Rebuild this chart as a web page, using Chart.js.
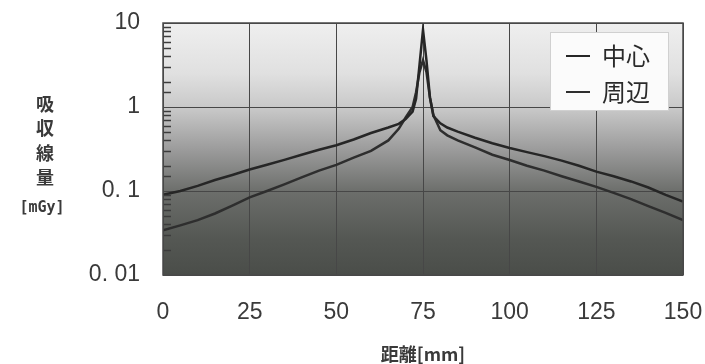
<!DOCTYPE html>
<html>
<head>
<meta charset="utf-8">
<script src="https://cdn.jsdelivr.net/npm/chart.js@4.4.1/dist/chart.umd.min.js"></script>
<style>
    html, body { margin: 0; padding: 0; background: #fff; }
    #wrap { width: 705px; height: 364px; position: relative; }
</style>
</head>
<body>
<div id="wrap"><canvas id="doseChart"></canvas></div>
<script>
/* =========================================================
   DATA
========================================================= */
const distances = [0, 5, 10, 15, 20, 25, 30, 35, 40, 45, 50, 55, 60, 65, 68, 70, 72, 73, 74, 75,
    76, 77, 78, 80, 82, 85, 90, 95, 100, 105, 110, 115, 120, 125, 130, 135, 140, 145, 150];

const centerDose = [0.09, 0.10, 0.115, 0.135, 0.155, 0.18, 0.205, 0.235, 0.27, 0.31, 0.35, 0.41, 0.49, 0.57, 0.63, 0.72, 0.88, 1.25, 3.2, 8.3,
    3.6, 1.3, 0.78, 0.64, 0.57, 0.51, 0.43, 0.37, 0.325, 0.29, 0.26, 0.23, 0.2, 0.17, 0.15, 0.13, 0.11, 0.09, 0.075];

const edgeDose = [0.034, 0.039, 0.045, 0.054, 0.067, 0.084, 0.1, 0.12, 0.145, 0.175, 0.205, 0.25, 0.3, 0.4, 0.55, 0.75, 1.0, 1.5, 2.6, 3.6,
    2.6, 1.3, 0.8, 0.53, 0.46, 0.4, 0.33, 0.27, 0.234, 0.2, 0.175, 0.15, 0.13, 0.112, 0.095, 0.08, 0.066, 0.055, 0.045];

const seriesNames = ["中心", "周辺"];
const yTickLabels = { 10: "10", 1: "1", 0.1: "0. 1", 0.01: "0. 01" };
const yTitleChars = ["吸", "収", "線", "量"];
const yTitleUnit = "[mGy]";
const xTitle = "距離[mm]";

const LINE_COLOR = "#262626";
const TEXT_COLOR = "#3a3a3a";
const NUM_FONT = "'Liberation Sans', Arial, sans-serif";
const JP_FONT = "'Noto Sans CJK JP', sans-serif";

function isDecade(v) {
    const l = Math.log10(v);
    return Math.abs(l - Math.round(l)) < 1e-6;
}

/* =========================================================
   PLUGINS
========================================================= */
// gradient background of the plot area
const plotBackground = {
    id: "plotBackground",
    beforeDraw(chart) {
        const { ctx, chartArea: a } = chart;
        const g = ctx.createLinearGradient(0, a.top, 0, a.bottom);
        g.addColorStop(0, "#efefef");
        g.addColorStop(0.2, "#e0e0e0");
        g.addColorStop(0.34, "#c8c8c8");
        g.addColorStop(0.5, "#9c9c9c");
        g.addColorStop(0.67, "#6c6e6b");
        g.addColorStop(0.85, "#555854");
        g.addColorStop(1, "#4a4d49");
        ctx.save();
        ctx.fillStyle = g;
        ctx.fillRect(a.left, a.top, a.right - a.left, a.bottom - a.top);
        ctx.restore();
    }
};

// border, minor ticks, legend box and axis titles
const decorations = {
    id: "decorations",
    afterDraw(chart) {
        const { ctx, chartArea: a } = chart;
        const yScale = chart.scales.y;
        ctx.save();

        // minor ticks on the inside of the left edge
        ctx.strokeStyle = "#3c3c3c";
        ctx.lineWidth = 1.5;
        yScale.ticks.forEach(t => {
            if (isDecade(t.value)) return;
            const py = Math.round(yScale.getPixelForValue(t.value)) + 0.5;
            ctx.beginPath();
            ctx.moveTo(a.left, py);
            ctx.lineTo(a.left + 8, py);
            ctx.stroke();
        });

        // plot border
        ctx.strokeStyle = "#4a4a4a";
        ctx.lineWidth = 1.5;
        ctx.strokeRect(a.left, a.top, a.right - a.left, a.bottom - a.top);

        // legend box
        const bx = a.right - 133, by = a.top + 9, bw = 118, bh = 78;
        ctx.fillStyle = "#fbfbfb";
        ctx.fillRect(bx, by, bw, bh);
        ctx.strokeStyle = "#d0d0d0";
        ctx.lineWidth = 1;
        ctx.strokeRect(bx + 0.5, by + 0.5, bw, bh);
        ctx.font = `24px ${JP_FONT}`;
        ctx.textBaseline = "middle";
        ctx.textAlign = "left";
        chart.data.datasets.forEach((ds, i) => {
            const ly = by + 24 + i * 36;
            ctx.strokeStyle = ds.borderColor;
            ctx.lineWidth = 2;
            ctx.beginPath();
            ctx.moveTo(bx + 16, ly);
            ctx.lineTo(bx + 40, ly);
            ctx.stroke();
            ctx.fillStyle = "#2a2a2a";
            ctx.fillText(ds.label, bx + 52, ly);
        });

        // stacked y-axis title
        ctx.fillStyle = TEXT_COLOR;
        ctx.textAlign = "center";
        ctx.font = `bold 18px ${JP_FONT}`;
        yTitleChars.forEach((c, i) => ctx.fillText(c, 45, 104 + i * 24.5));
        ctx.font = `bold 15px 'DejaVu Sans Mono', monospace`;
        ctx.fillText(yTitleUnit, 42, 208);

        // x-axis title
        ctx.font = `bold 18px ${JP_FONT}`;
        ctx.fillText(xTitle, 423, 354);

        ctx.restore();
    }
};

/* =========================================================
   CHART
========================================================= */
const toPoints = vals => distances.map((d, i) => ({ x: d, y: vals[i] }));

new Chart(document.getElementById("doseChart"), {
    type: "line",
    data: {
        datasets: [
            {
                label: seriesNames[0],
                data: toPoints(centerDose),
                borderColor: LINE_COLOR,
                borderWidth: 2.5,
                pointRadius: 0,
                tension: 0
            },
            {
                label: seriesNames[1],
                data: toPoints(edgeDose),
                borderColor: "#2e2e2e",
                borderWidth: 2.5,
                pointRadius: 0,
                tension: 0
            }
        ]
    },
    options: {
        responsive: true,
        maintainAspectRatio: false,
        animation: false,
        layout: { padding: { top: 23, right: 22, left: 0, bottom: 0 } },
        plugins: {
            legend: { display: false },
            tooltip: { enabled: false }
        },
        scales: {
            x: {
                type: "linear",
                min: 0,
                max: 150,
                border: { display: false },
                grid: { color: "#474747", lineWidth: 1, drawTicks: false },
                ticks: {
                    stepSize: 25,
                    padding: 24,
                    color: TEXT_COLOR,
                    font: { family: NUM_FONT, size: 23 }
                },
                afterFit: s => {
                    s.height = 89;
                    s.paddingLeft = 0;
                    s.paddingRight = 0;
                }
            },
            y: {
                type: "logarithmic",
                min: 0.01,
                max: 10,
                border: { display: false },
                grid: {
                    drawTicks: false,
                    color: ctx => (ctx.tick && isDecade(ctx.tick.value)) ? "#474747" : "transparent",
                    lineWidth: 1
                },
                ticks: {
                    autoSkip: false,
                    padding: 23,
                    color: TEXT_COLOR,
                    font: { family: NUM_FONT, size: 23 },
                    callback: v => {
                        for (const k in yTickLabels) {
                            if (Math.abs(Number(k) - v) < v * 1e-6) return yTickLabels[k];
                        }
                        return "";
                    }
                },
                afterFit: s => {
                    s.width = 163;
                    s.paddingTop = 0;
                    s.paddingBottom = 0;
                }
            }
        }
    },
    plugins: [plotBackground, decorations]
});
</script>
</body>
</html>
